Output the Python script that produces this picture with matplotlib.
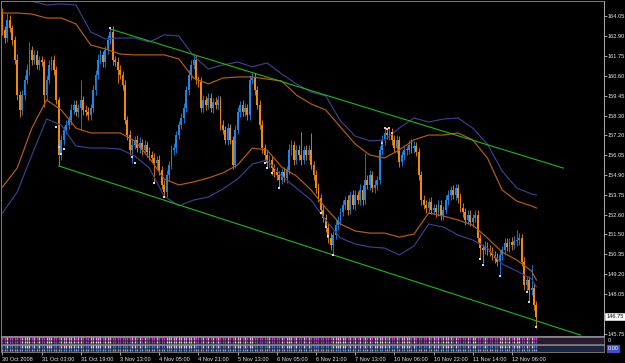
import matplotlib.pyplot as plt
import matplotlib.transforms as mtransforms
import numpy as np

plt.rcParams['font.family'] = ['Liberation Sans', 'DejaVu Sans']

# hourly closes, one per bar (30 Oct 2008 11:00 .. 12 Nov 2008 16:00)
closes = [
    163.24, 162.78, 163.82, 163.36, 162.67, 161.52, 159.50, 158.64, 159.50, 160.37,
    160.94, 162.09, 161.52, 161.81, 161.23, 161.52, 161.40, 159.50, 160.37, 161.23,
    161.52, 160.94, 159.22, 156.05, 156.92, 157.49, 157.78, 158.07, 158.64, 158.93,
    158.53, 158.76, 159.22, 158.64, 158.53, 158.35, 158.76, 159.79, 160.66, 161.52,
    161.81, 161.40, 162.09, 162.67, 163.13, 161.52, 161.40, 160.94, 160.66, 160.08,
    158.07, 157.20, 156.34, 156.63, 156.92, 156.45, 156.74, 156.34, 156.63, 156.22,
    156.05, 155.88, 155.59, 155.76, 155.19, 154.33, 153.92, 154.90, 155.48, 156.34,
    156.45, 157.20, 157.78, 158.18, 158.76, 159.79, 160.66, 161.23, 161.52, 160.37,
    160.25, 158.76, 159.22, 158.93, 159.33, 158.76, 159.10, 158.93, 159.22, 157.78,
    157.49, 156.92, 157.60, 156.92, 155.48, 157.49, 158.53, 158.93, 158.53, 158.76,
    158.35, 160.37, 160.48, 159.79, 158.93, 157.78, 156.45, 156.05, 155.59, 155.76,
    155.30, 155.07, 154.90, 154.61, 155.07, 154.73, 155.19, 156.34, 156.63, 155.76,
    156.34, 156.05, 155.76, 156.34, 156.05, 156.34, 155.48, 154.90, 154.15, 153.58,
    152.89, 152.43, 151.85, 151.28, 150.87, 151.45, 152.02, 152.31, 152.77, 153.18,
    153.46, 152.89, 153.75, 153.18, 153.75, 153.46, 154.04, 153.46, 154.61, 154.33,
    154.90, 154.15, 154.33, 154.61, 156.34, 156.92, 157.32, 157.20, 157.37, 156.92,
    156.45, 156.92, 155.65, 156.05, 156.34, 156.34, 156.63, 156.45, 156.57, 156.22,
    154.90, 153.46, 153.18, 153.00, 153.35, 152.89, 153.00, 152.77, 153.18, 152.60,
    152.89, 153.46, 153.75, 154.04, 153.75, 154.15, 153.58, 153.00, 152.77, 152.31,
    152.60, 152.20, 152.43, 152.60, 151.28, 150.70, 150.59, 150.82, 150.59, 150.47,
    150.30, 150.13, 149.90, 150.30, 150.59, 150.99, 150.76, 151.05, 150.87, 151.10,
    151.16, 151.28, 149.90, 148.57, 148.86, 148.28, 148.40, 147.42, 146.75,
]
first_open = 164.20

upper_wick = [
    0.30, 0.22, 0.40, 0.26, 0.18, 0.22, 0.35, 0.22, 0.30, 0.26,
    0.35, 0.46, 0.22, 0.30, 0.26, 0.22, 0.22, 0.18, 0.30, 0.26,
    0.22, 0.26, 0.22, 0.18, 0.30, 0.22, 0.26, 0.22, 0.35, 0.26,
    0.30, 0.22, 1.15, 0.22, 0.30, 0.26, 0.22, 0.30, 0.26, 0.35,
    0.30, 0.22, 0.26, 0.30, 0.30, 0.35, 0.22, 0.26, 0.30, 0.22,
    0.26, 0.22, 0.30, 0.26, 0.22, 0.30, 0.35, 0.22, 0.26, 0.22,
    0.30, 0.22, 0.26, 0.22, 0.30, 0.22, 0.26, 0.30, 0.22, 0.26,
    0.30, 0.26, 0.22, 0.30, 0.26, 0.22, 0.30, 0.26, 0.30, 0.30,
    0.22, 0.26, 0.30, 0.22, 0.26, 0.30, 0.22, 0.26, 0.30, 0.22,
    0.26, 0.22, 0.30, 0.26, 0.22, 0.30, 0.26, 0.22, 0.30, 0.26,
    0.22, 0.30, 0.30, 0.26, 0.22, 0.30, 0.26, 0.22, 0.26, 0.30,
    0.22, 0.26, 0.30, 0.22, 0.26, 0.30, 0.22, 0.35, 0.26, 0.22,
    0.30, 0.26, 1.30, 0.22, 0.30, 0.26, 1.00, 0.22, 0.26, 0.30,
    0.22, 0.26, 0.22, 0.30, 0.26, 0.22, 0.30, 0.26, 0.22, 0.30,
    0.26, 0.30, 0.22, 0.26, 0.30, 0.22, 0.35, 0.26, 1.56, 0.30,
    0.26, 0.22, 0.30, 0.26, 0.22, 0.30, 0.28, 0.26, 0.30, 0.22,
    0.26, 0.30, 0.22, 0.26, 0.30, 0.22, 0.26, 0.35, 0.30, 0.22,
    0.26, 0.22, 0.30, 0.26, 0.22, 0.30, 0.26, 0.22, 0.30, 0.26,
    0.22, 0.30, 0.26, 0.22, 0.30, 0.26, 0.22, 0.26, 0.30, 0.22,
    0.26, 0.30, 0.22, 0.26, 0.30, 0.22, 0.26, 0.30, 0.22, 0.26,
    0.30, 0.22, 0.26, 0.30, 0.22, 0.26, 0.30, 0.22, 0.26, 0.30,
    0.58, 0.26, 0.22, 0.30, 0.26, 0.22, 1.32, 0.26, 0.22,
]
lower_wick = [
    0.26, 0.30, 0.22, 0.26, 0.30, 0.22, 0.26, 0.40, 0.30, 0.26,
    0.22, 0.26, 0.30, 0.22, 0.26, 0.30, 0.22, 0.69, 0.26, 0.22,
    0.30, 0.26, 0.22, 0.63, 0.26, 0.30, 0.22, 0.26, 0.30, 0.22,
    0.26, 0.30, 1.27, 0.26, 0.22, 0.30, 0.26, 0.22, 0.30, 0.26,
    0.22, 0.30, 0.26, 0.22, 0.26, 0.30, 0.22, 0.75, 0.26, 0.30,
    0.22, 0.26, 0.30, 0.75, 0.26, 0.22, 0.30, 0.26, 0.22, 0.30,
    0.26, 0.22, 1.15, 0.26, 0.30, 0.22, 0.30, 0.26, 0.30, 0.22,
    0.26, 0.30, 0.22, 0.26, 0.30, 0.22, 0.26, 0.30, 0.22, 0.26,
    0.30, 0.22, 0.26, 0.30, 0.22, 0.26, 0.30, 0.22, 0.26, 0.30,
    0.22, 0.26, 0.30, 0.22, 0.26, 0.18, 0.22, 0.30, 0.26, 0.22,
    0.30, 0.26, 0.22, 0.30, 0.26, 0.22, 0.26, 0.30, 0.30, 0.26,
    0.40, 0.26, 0.30, 0.45, 0.22, 0.26, 0.30, 0.22, 0.26, 0.30,
    0.22, 0.26, 0.30, 0.22, 0.26, 0.30, 0.22, 0.26, 0.30, 0.22,
    0.18, 0.26, 0.22, 0.30, 0.26, 0.57, 0.22, 0.26, 0.30, 0.22,
    0.26, 0.30, 0.22, 0.26, 0.30, 0.22, 0.26, 0.30, 0.22, 0.26,
    0.30, 0.22, 0.26, 0.30, 0.22, 0.26, 0.30, 0.22, 0.26, 0.30,
    0.22, 0.26, 0.30, 0.22, 0.26, 0.30, 0.22, 0.26, 0.30, 0.22,
    0.26, 0.30, 0.22, 0.26, 0.30, 0.22, 0.26, 0.30, 0.22, 0.26,
    0.30, 0.22, 0.26, 0.30, 0.22, 0.26, 0.30, 0.22, 0.26, 0.30,
    0.22, 0.26, 0.30, 0.22, 0.26, 0.63, 0.75, 0.26, 0.30, 0.22,
    0.26, 0.30, 0.22, 0.80, 0.26, 0.30, 0.22, 0.26, 0.30, 0.22,
    0.26, 0.30, 0.22, 0.26, 0.40, 0.69, 0.26, 0.30, 0.65,
]

# two envelope bands, sampled every 6 bars
band_bars = list(range(0, 217, 6)) + [218]
orange_upper = [164.22, 164.22, 164.16, 163.93, 163.93, 163.59, 162.38, 162.15, 161.86, 161.81,
                161.81, 161.81, 161.58, 160.48, 160.14, 160.48, 160.54, 160.54, 160.42, 160.31,
                159.50, 158.99, 158.64, 157.66, 156.68, 156.05, 155.88, 156.34, 156.92, 157.20,
                157.20, 157.32, 156.92, 155.88, 154.04, 153.40, 153.12, 153.00]
orange_lower = [154.21, 155.30, 157.60, 159.22, 158.64, 157.60, 157.32, 157.32, 157.32, 156.86,
                155.88, 154.67, 154.33, 154.50, 154.73, 155.02, 155.48, 156.45, 156.34, 155.36,
                154.84, 154.04, 153.00, 152.08, 151.68, 151.56, 151.56, 151.33, 151.50, 152.71,
                152.54, 152.31, 152.02, 151.28, 150.47, 150.01, 149.38, 148.86]
blue_upper = [165.83, 165.20, 164.91, 164.68, 164.74, 164.68, 163.13, 162.73, 162.78, 162.78,
              162.55, 162.96, 162.90, 161.75, 161.00, 161.23, 161.40, 161.12, 161.35, 160.71,
              160.14, 159.68, 159.45, 158.01, 157.14, 156.86, 156.92, 157.60, 158.18, 157.95,
              158.12, 158.18, 157.60, 156.68, 155.13, 154.15, 153.81, 153.75]
blue_lower = [152.71, 153.92, 156.05, 158.12, 157.78, 156.57, 156.45, 156.45, 156.40, 155.99,
              155.30, 153.69, 153.12, 153.46, 153.63, 154.10, 154.67, 155.53, 155.76, 154.84,
              154.15, 153.46, 152.31, 151.28, 150.93, 150.76, 150.70, 150.30, 150.82, 152.08,
              151.91, 151.45, 151.16, 150.70, 149.78, 149.38, 148.92, 148.46]

# channel lines (bar, price)
upper_channel = ([44, 229], [163.30, 155.30])
lower_channel = ([23, 236], [155.42, 145.69])

# signal dots
low_dot_bars = [22, 23, 24, 25, 53, 54, 62, 66, 107, 108, 110, 113, 130, 132, 133, 135,
                195, 196, 203, 214, 215, 218]
low_dot_prices = [157.66, 156.51, 156.11, 156.40, 155.94, 155.59, 154.44, 153.63, 155.59, 155.30,
                  155.02, 154.15, 152.71, 151.91, 151.39, 150.30, 150.07, 149.72, 149.09, 148.17,
                  147.59, 146.15]
high_dot_bars = [44, 155, 156, 157, 158, 159]
high_dot_prices = [163.36, 156.74, 157.60, 157.55, 157.60, 157.32]

tick_bars = list(range(0, 209, 16))
tick_labels = ['30 Oct 2008', '31 Oct 03:00', '31 Oct 19:00', '3 Nov 13:00', '4 Nov 05:00',
               '4 Nov 21:00', '5 Nov 13:00', '6 Nov 05:00', '6 Nov 21:00', '7 Nov 13:00',
               '10 Nov 06:00', '10 Nov 22:00', '11 Nov 14:00', '12 Nov 06:00']
price_ticks = [164.05, 162.90, 161.75, 160.60, 159.45, 158.30, 157.20, 156.05, 154.90,
               153.75, 152.60, 151.50, 150.35, 149.20, 148.05, 145.75]
last_price = 146.75

BULL = '#1f86e6'
BEAR = '#f0870f'
TXT = '#e8e8e8'
FS = 4.1

W, H = 625, 363
fig = plt.figure(figsize=(W / 100, H / 100), dpi=100, facecolor='black')


def px_axes(x0, y0, x1, y1):
    return fig.add_axes([x0 / W, 1 - y1 / H, (x1 - x0) / W, (y1 - y0) / H])


ax = px_axes(1, 1, 604, 336)
ax.set_facecolor('black')

bars = np.arange(len(closes))
c = np.array(closes)
o = np.array([first_open] + closes[:-1])
hi = np.maximum(o, c) + np.array(upper_wick)
lo = np.minimum(o, c) - np.array(lower_wick)
cols = [BULL if cc >= oo else BEAR for oo, cc in zip(o, c)]

ax.vlines(bars, lo, hi, colors=cols, linewidth=0.6)
body = np.maximum(np.abs(c - o), 0.04)
ax.bar(bars, body, bottom=np.minimum(o, c), width=0.75, color=cols, linewidth=0)

band_style = dict(lw=0.85, solid_joinstyle='round')
ax.plot(band_bars, orange_upper, color='#b85c1c', **band_style)
ax.plot(band_bars, orange_lower, color='#b85c1c', **band_style)
ax.plot(band_bars, blue_upper, color='#3e3e8e', **band_style)
ax.plot(band_bars, blue_lower, color='#3e3e8e', **band_style)

ax.plot(*upper_channel, color='#22b422', lw=0.8)
ax.plot(*lower_channel, color='#22b422', lw=0.8)

ax.scatter(low_dot_bars, low_dot_prices, s=2.5, marker='s', color='#c8dcff', linewidths=0, zorder=5)
ax.scatter(high_dot_bars, high_dot_prices, s=2.5, marker='s', color='#ffb4c8', linewidths=0, zorder=5)

ax.set_xlim(-0.61, 245.6)
ax.set_ylim(145.64, 164.91)
ax.set_xticks([])
ax.yaxis.tick_right()
ax.set_yticks(price_ticks)
ax.set_yticklabels([f'{p:.2f}' for p in price_ticks])
ax.tick_params(axis='y', colors=TXT, labelsize=FS, length=2, width=0.5, pad=0.6)
for side in ['top', 'left']:
    ax.spines[side].set_color('#909090')
    ax.spines[side].set_linestyle((0, (1, 1)))
    ax.spines[side].set_linewidth(0.6)
ax.spines['right'].set_color('#c8c8c8')
ax.spines['right'].set_linewidth(0.6)
ax.spines['bottom'].set_color('#a0a0a0')
ax.spines['bottom'].set_linewidth(0.6)

trans = mtransforms.blended_transform_factory(ax.transAxes, ax.transData)
ax.text(1.0035, last_price, f'{last_price:.2f}', transform=trans, ha='left', va='center',
        fontsize=FS, color='black',
        bbox=dict(boxstyle='square,pad=0.2', fc='white', ec='white', lw=0.4))

# indicator strips
ax2 = px_axes(1, 337, 604, 344)
ax3 = px_axes(1, 345, 604, 352)
for a, fc in [(ax2, '#2a1a30'), (ax3, '#1c2440')]:
    a.set_facecolor(fc)
    a.set_xlim(-0.61, 245.6)
    a.set_ylim(0, 1)
    a.set_yticks([])
    for s in a.spines.values():
        s.set_color('#a0a0a0')
        s.set_linewidth(0.5)

up = c >= o
ax2.vlines(bars, 0.55, 0.95, colors=np.where(up, '#ff9cff', '#c040c0'), linewidth=1.0)
ax2.vlines(bars, 0.1, 0.45, colors=np.where(up, '#e0e0e0', '#9050b0'), linewidth=1.0)
ax3.vlines(bars, 0.55, 0.95, colors=np.where(up, '#d0d0e8', '#5070c8'), linewidth=1.0)
ax3.vlines(bars, 0.1, 0.45, colors=np.where(up, '#6090e0', '#a0a0b0'), linewidth=1.0)
ax2.set_xticks([])
ax2.text(1.006, 0.5, '0', transform=ax2.transAxes, ha='left', va='center', fontsize=FS, color=TXT)
ax3.text(1.006, 0.5, '0.00', transform=ax3.transAxes, ha='left', va='center', fontsize=FS,
         color='white', bbox=dict(boxstyle='square,pad=0.15', fc='#4050c0', ec='#4050c0'))

ax3.set_xticks(tick_bars)
ax3.set_xticklabels(tick_labels)
ax3.tick_params(axis='x', colors=TXT, labelsize=FS, length=2.5, width=0.5, pad=1)
for lab in ax3.get_xticklabels():
    lab.set_ha('left')

fig.savefig('out.png', dpi=100, facecolor='black')
